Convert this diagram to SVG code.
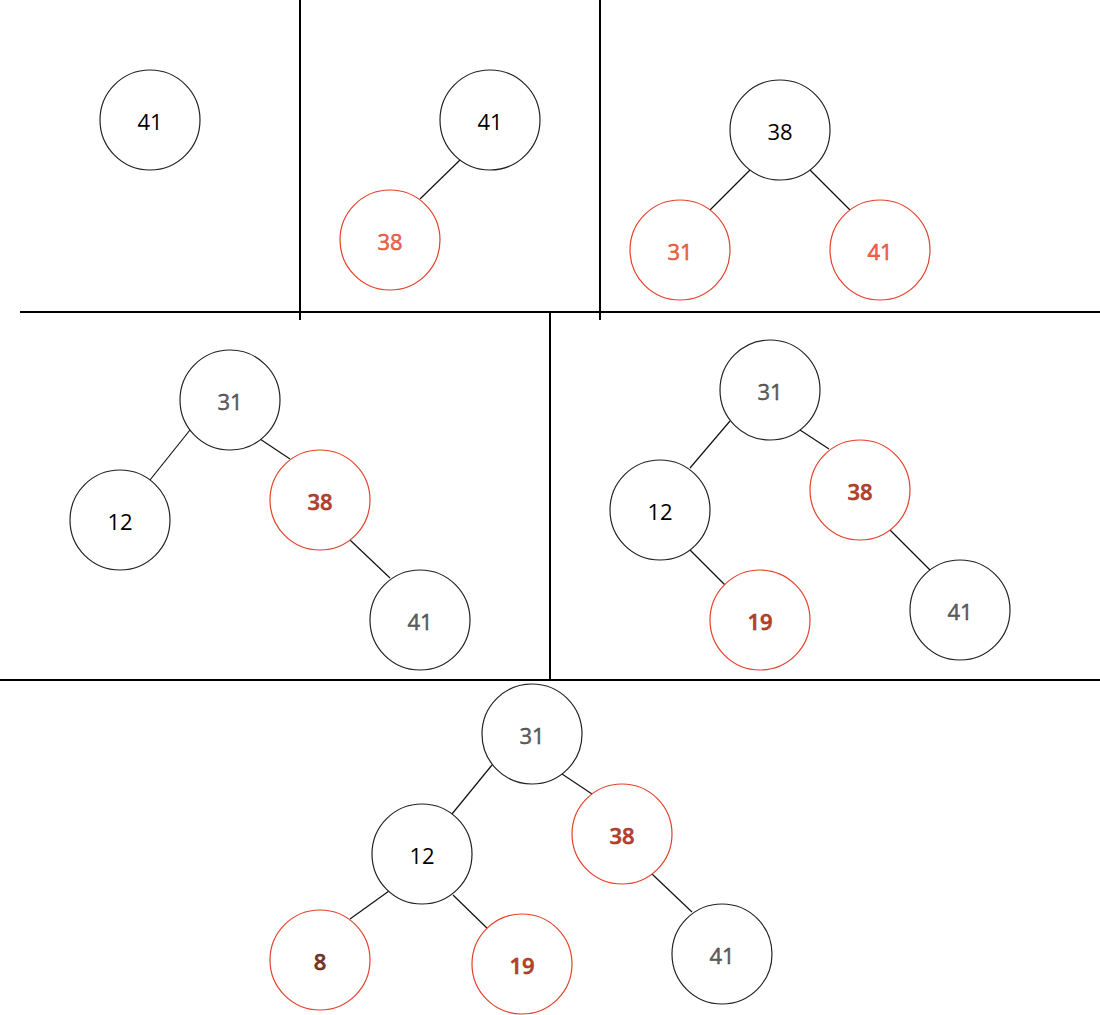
<svg xmlns="http://www.w3.org/2000/svg" width="1100" height="1015" viewBox="0 0 1100 1015">
<style>
  .n{fill:#fff;stroke:#222;stroke-width:1.2}
  .r{fill:#fff;stroke:#e5402a;stroke-width:1.2}
  .e{stroke:#111;stroke-width:1.2;fill:none}
  .d{stroke:#000;stroke-width:2;fill:none}
  text{font-family:"Open Sans","Noto Sans","Liberation Sans",sans-serif;font-size:22px;text-anchor:middle}
  .tb{fill:#000}
  .tg{fill:#666;stroke:#333;stroke-width:0.4}
  .tr1{fill:#f06a50;stroke:#e0442a;stroke-width:0.5}
  .tr2{fill:#c0402a;stroke:#8a3020;stroke-width:0.5;font-weight:600}
  .tr3{fill:#7a3322;stroke:#5a2518;stroke-width:0.5;font-weight:600}
</style>
<rect width="1100" height="1015" fill="#fff"/>
<g id="dividers">
  <line class="d" x1="300" y1="0" x2="300" y2="320"/>
  <line class="d" x1="600" y1="0" x2="600" y2="320"/>
  <line class="d" x1="20" y1="312" x2="1100" y2="312"/>
  <line class="d" x1="550" y1="312" x2="550" y2="680"/>
  <line class="d" x1="0" y1="680" x2="1100" y2="680"/>
</g>
<g id="connectors">
  <line class="e" x1="460" y1="160" x2="420" y2="199"/>
  <line class="e" x1="750" y1="170" x2="710" y2="210"/>
  <line class="e" x1="810" y1="170" x2="850" y2="210"/>
  <line class="e" x1="190" y1="430" x2="150" y2="480"/>
  <line class="e" x1="260" y1="439" x2="290" y2="459"/>
  <line class="e" x1="350" y1="540" x2="390" y2="578"/>
  <line class="e" x1="730" y1="421" x2="690" y2="468"/>
  <line class="e" x1="800" y1="430" x2="829" y2="449"/>
  <line class="e" x1="690" y1="550" x2="730" y2="590"/>
  <line class="e" x1="890" y1="530" x2="930" y2="570"/>
  <line class="e" x1="492" y1="765" x2="452" y2="814"/>
  <line class="e" x1="562" y1="774" x2="592" y2="794"/>
  <line class="e" x1="389" y1="891" x2="350" y2="919"/>
  <line class="e" x1="453" y1="895" x2="492" y2="933"/>
  <line class="e" x1="652" y1="874" x2="692" y2="912"/>
</g>
<g id="p1n41"><circle class="n" cx="150" cy="120" r="50"/><text class="tb" x="150" y="130">41</text></g>
<g id="p2n41"><circle class="n" cx="490" cy="120" r="50"/><text class="tb" x="490" y="130">41</text></g>
<g id="p2n38"><circle class="r" cx="390" cy="240" r="50"/><text class="tr1" x="390" y="250">38</text></g>
<g id="p3n38"><circle class="n" cx="780" cy="130" r="50"/><text class="tb" x="780" y="140">38</text></g>
<g id="p3n31"><circle class="r" cx="680" cy="250" r="50"/><text class="tr1" x="680" y="260">31</text></g>
<g id="p3n41"><circle class="r" cx="880" cy="250" r="50"/><text class="tr1" x="880" y="260">41</text></g>
<g id="p4n31"><circle class="n" cx="230" cy="400" r="50"/><text class="tg" x="230" y="410">31</text></g>
<g id="p4n12"><circle class="n" cx="120" cy="520" r="50"/><text class="tb" x="120" y="530">12</text></g>
<g id="p4n38"><circle class="r" cx="320" cy="500" r="50"/><text class="tr2" x="320" y="510">38</text></g>
<g id="p4n41"><circle class="n" cx="420" cy="620" r="50"/><text class="tg" x="420" y="630">41</text></g>
<g id="p5n31"><circle class="n" cx="770" cy="390" r="50"/><text class="tg" x="770" y="400">31</text></g>
<g id="p5n12"><circle class="n" cx="660" cy="510" r="50"/><text class="tb" x="660" y="520">12</text></g>
<g id="p5n38"><circle class="r" cx="860" cy="490" r="50"/><text class="tr2" x="860" y="500">38</text></g>
<g id="p5n19"><circle class="r" cx="760" cy="620" r="50"/><text class="tr2" x="760" y="630">19</text></g>
<g id="p5n41"><circle class="n" cx="960" cy="610" r="50"/><text class="tg" x="960" y="620">41</text></g>
<g id="p6n31"><circle class="n" cx="532" cy="734" r="50"/><text class="tg" x="532" y="744">31</text></g>
<g id="p6n12"><circle class="n" cx="422" cy="854" r="50"/><text class="tb" x="422" y="864">12</text></g>
<g id="p6n38"><circle class="r" cx="622" cy="834" r="50"/><text class="tr2" x="622" y="844">38</text></g>
<g id="p6n8"><circle class="r" cx="320" cy="960" r="50"/><text class="tr3" x="320" y="970">8</text></g>
<g id="p6n19"><circle class="r" cx="522" cy="964" r="50"/><text class="tr2" x="522" y="974">19</text></g>
<g id="p6n41"><circle class="n" cx="722" cy="954" r="50"/><text class="tg" x="722" y="964">41</text></g>
</svg>
